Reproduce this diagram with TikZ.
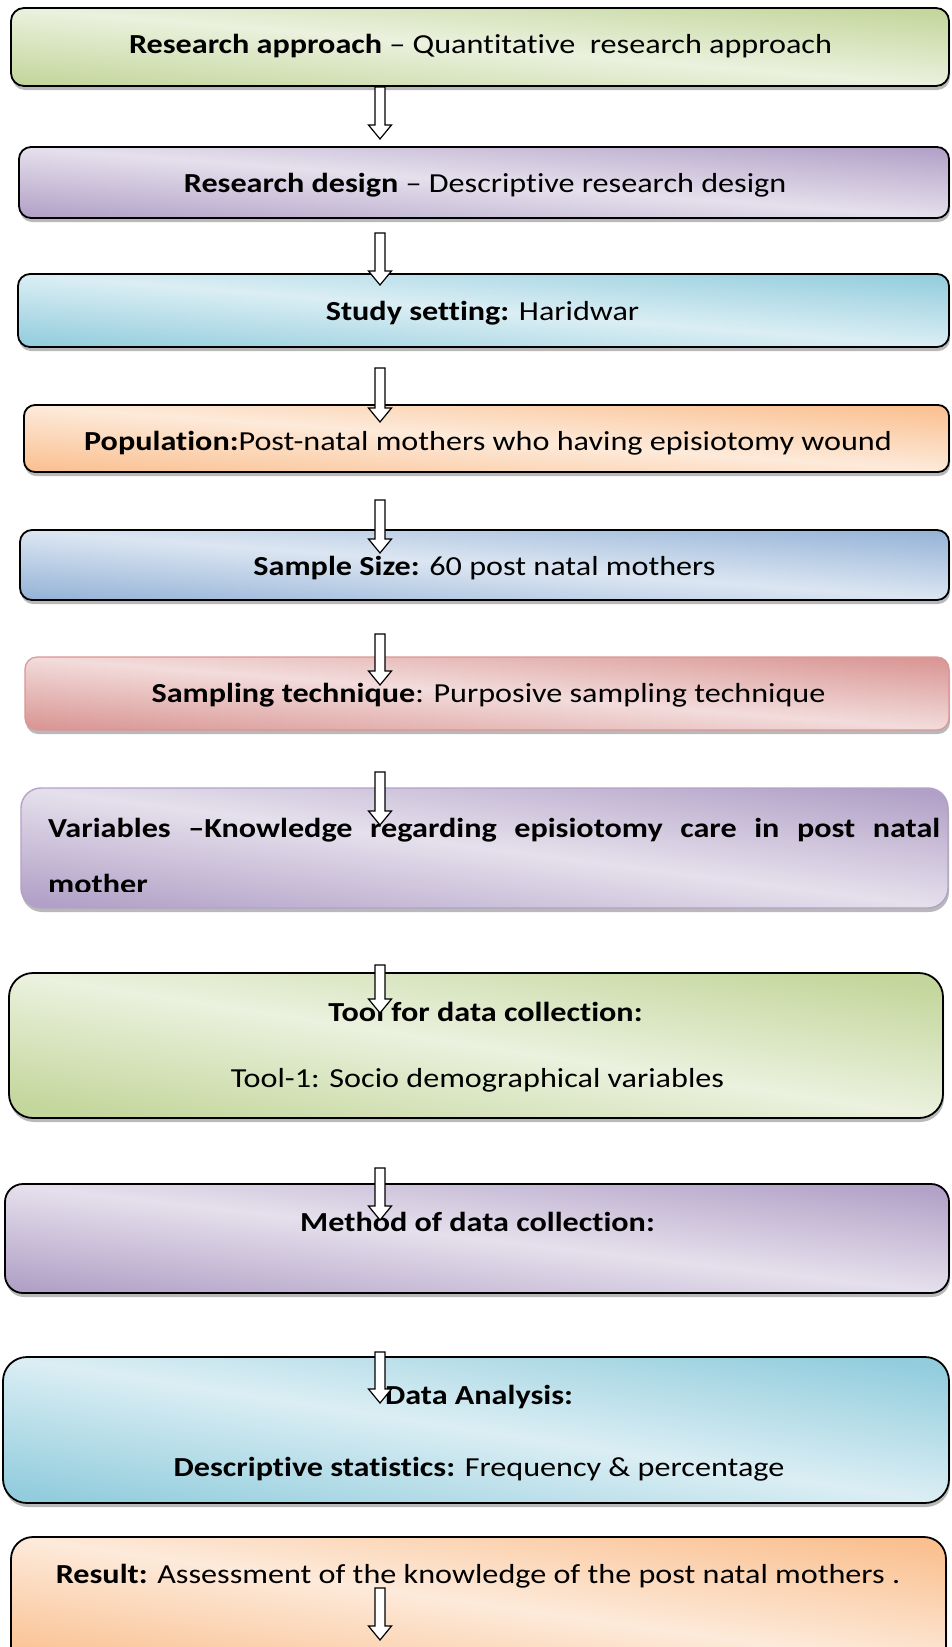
\documentclass[tikz,border=0pt]{standalone}
\usepackage{fontspec}
\setmainfont{Carlito}[FakeStretch=1.17, Ligatures=CommonOff]
\usetikzlibrary{shadows,calc}
\definecolor{grnL}{HTML}{EBF1DE}\definecolor{grnD}{HTML}{C3D69B}
\definecolor{purL}{HTML}{E5E0EC}\definecolor{purD}{HTML}{B2A1C7}
\definecolor{aquL}{HTML}{DBEEF4}\definecolor{aquD}{HTML}{93CDDD}
\definecolor{orgL}{HTML}{FDEADA}\definecolor{orgD}{HTML}{FAC090}
\definecolor{bluL}{HTML}{DCE6F2}\definecolor{bluD}{HTML}{95B3D7}
\definecolor{redL}{HTML}{F2DCDB}\definecolor{redD}{HTML}{D99694}
\definecolor{redB}{HTML}{D99694}\definecolor{purB}{HTML}{B3A2C8}
\newcommand\mkshade[3]{\pgfdeclarehorizontalshading{#1}{100bp}{color(0bp)=(#3); color(24bp)=(#3); color(50bp)=(#2); color(76bp)=(#3); color(100bp)=(#3)}}
\mkshade{shgrn}{grnL}{grnD}
\mkshade{shpur}{purL}{purD}
\mkshade{shaqu}{aquL}{aquD}
\mkshade{shorg}{orgL}{orgD}
\mkshade{shblu}{bluL}{bluD}
\mkshade{shred}{redL}{redD}
\tikzset{
  flowbox/.style={rectangle, inner sep=0pt, draw=black, line width=1.8pt,
    shading=#1,
    drop shadow={shadow xshift=1pt, shadow yshift=-4pt, fill=black!50, opacity=.55}},
  txt/.style={anchor=base, inner sep=0pt, font=\fontsize{27.5}{34}\selectfont},
  arrowsty/.style={draw=black, fill=white, line width=1.2pt, line join=miter}
}
\newcommand\myarrow[2]{%
  \draw[arrowsty] ($(#1)+(-5,0)$) -- ($(#2)+(-5,-14)$) -- ($(#2)+(-11.5,-14)$) -- (#2)
    -- ($(#2)+(11.5,-14)$) -- ($(#2)+(5,-14)$) -- ($(#1)+(5,0)$) -- cycle;}
\begin{document}
\begin{tikzpicture}[x=1pt,y=-1pt]
\useasboundingbox (0,0) rectangle (951,1647);
% boxes
\node[flowbox=shgrn, shading angle=85.2, minimum width=938pt, minimum height=78pt, rounded corners=13pt] (b1) at (480,47) {};
\node[flowbox=shpur, shading angle=85.6, minimum width=930pt, minimum height=71pt, rounded corners=12pt] (b2) at (484,182.5) {};
\node[flowbox=shaqu, shading angle=85.5, minimum width=931pt, minimum height=73pt, rounded corners=12pt] (b3) at (483.5,310.5) {};
\node[flowbox=shorg, shading angle=85.9, minimum width=925pt, minimum height=67pt, rounded corners=11pt] (b4) at (486.5,438.5) {};
\node[flowbox=shblu, shading angle=85.7, minimum width=929pt, minimum height=70pt, rounded corners=12pt] (b5) at (484.5,565) {};
\node[flowbox=shred, shading angle=85.5, draw=redB, line width=1.2pt, minimum width=924pt, minimum height=73pt, rounded corners=12pt] (b6) at (487,693.5) {};
\node[flowbox=shpur, shading angle=82.6, draw=purB, line width=1.4pt, minimum width=927pt, minimum height=120pt, rounded corners=20pt] (b7) at (484.5,848) {};
\node[flowbox=shgrn, shading angle=81.2, minimum width=934pt, minimum height=145pt, rounded corners=24pt] (b8) at (476,1045.5) {};
\node[flowbox=shpur, shading angle=83.4, minimum width=944pt, minimum height=109pt, rounded corners=18pt] (b9) at (477,1238.5) {};
\node[flowbox=shaqu, shading angle=81.2, minimum width=946pt, minimum height=146pt, rounded corners=24pt] (b10) at (476,1430) {};
\node[flowbox=shorg, shading angle=81.9, minimum width=935pt, minimum height=133pt, rounded corners=22pt] (b11) at (478.5,1603.5) {};
% texts
\node[txt] (t1) at (480.5,53) {\textbf{Research approach} – Quantitative\ \ research approach};
\node[txt] (t2) at (485,192) {\textbf{Research design} – Descriptive research design};
\node[txt] (t3) at (482.5,320) {\textbf{Study setting:} Haridwar};
\node[txt] (t4) at (488,450) {\textbf{Population:}Post-natal mothers who having episiotomy wound};
\node[txt] (t5) at (484.5,575) {\textbf{Sample Size:} 60 post natal mothers};
\node[txt] (t6) at (488.5,702) {\textbf{Sampling technique}: Purposive sampling technique};
\node[txt, anchor=base west] (t7a) at (48,837) {\makebox[892pt][s]{\textbf{Variables –Knowledge regarding episiotomy care in post natal}}};
\begin{scope}
\clip (0,700) rectangle (951,891.5);
\node[txt, anchor=base west] (t7b) at (48,893) {\textbf{mother}};
\end{scope}
\node[txt] (t8a) at (485.5,1021) {\textbf{Tool for data collection:}};
\node[txt] (t8b) at (477.5,1087) {Tool-1: Socio demographical variables};
\node[txt] (t9) at (477.5,1231) {\textbf{Method of data collection:}};
\node[txt] (t10a) at (479,1404) {\textbf{Data Analysis:}};
\node[txt] (t10b) at (479,1476) {\textbf{Descriptive statistics:} Frequency \& percentage};
\node[txt] (t11) at (478,1583) {\textbf{Result:} Assessment of the knowledge of the post natal mothers .};
% arrows
\coordinate (a1s) at (380,87);   \coordinate (a1e) at (380,139);
\coordinate (a2s) at (380,233);  \coordinate (a2e) at (380,285);
\coordinate (a3s) at (380,368);  \coordinate (a3e) at (380,422);
\coordinate (a4s) at (380,500);  \coordinate (a4e) at (380,553);
\coordinate (a5s) at (380,634);  \coordinate (a5e) at (380,685);
\coordinate (a6s) at (380,772);  \coordinate (a6e) at (380,825);
\coordinate (a7s) at (380,965);  \coordinate (a7e) at (380,1013);
\coordinate (a8s) at (380,1168); \coordinate (a8e) at (380,1220);
\coordinate (a9s) at (380,1352); \coordinate (a9e) at (380,1403);
\coordinate (a10s) at (380,1588); \coordinate (a10e) at (380,1640);
\myarrow{a1s}{a1e}
\myarrow{a2s}{a2e}
\myarrow{a3s}{a3e}
\myarrow{a4s}{a4e}
\myarrow{a5s}{a5e}
\myarrow{a6s}{a6e}
\myarrow{a7s}{a7e}
\myarrow{a8s}{a8e}
\myarrow{a9s}{a9e}
\myarrow{a10s}{a10e}
\end{tikzpicture}
\end{document}
